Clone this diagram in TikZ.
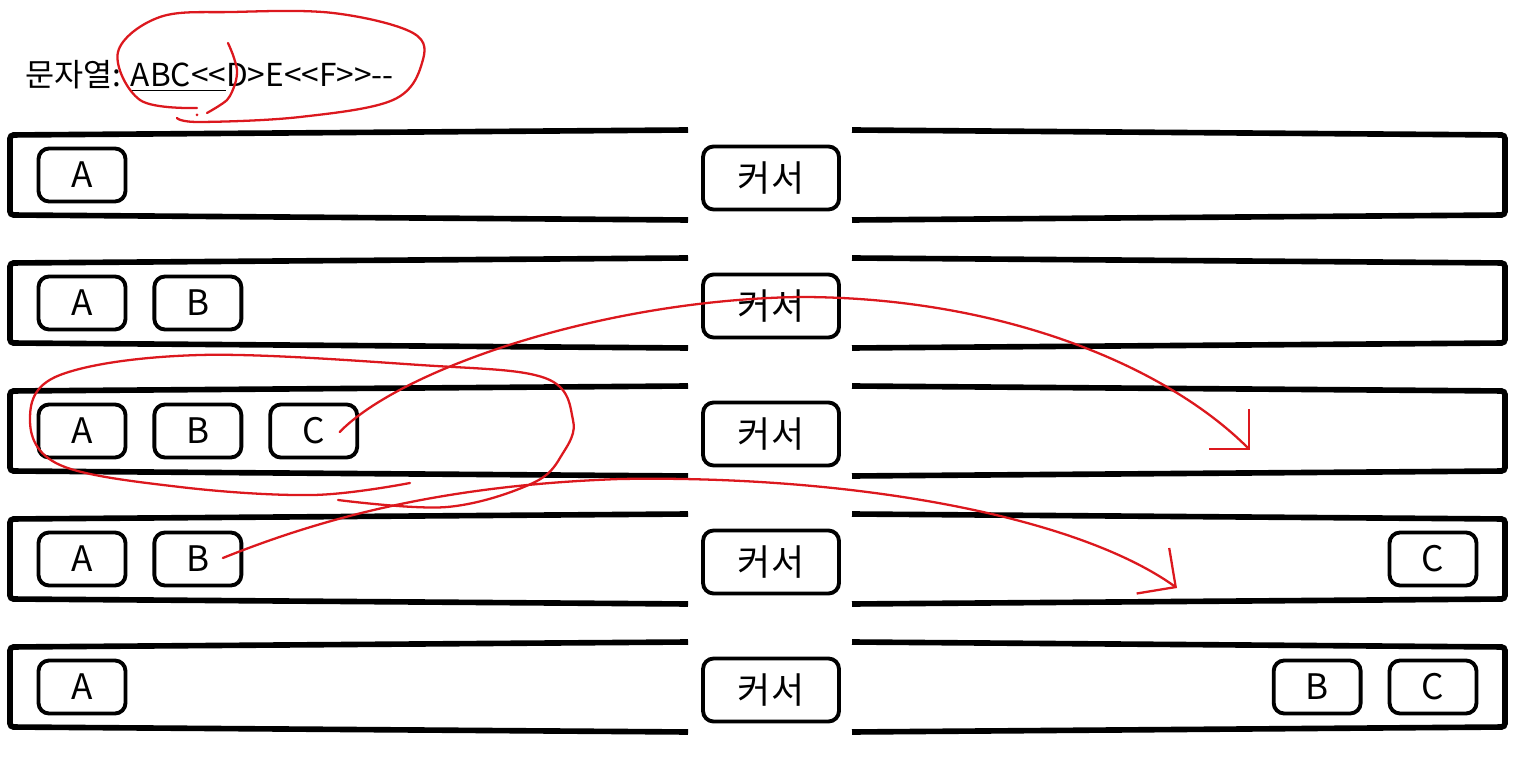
\documentclass[tikz,border=0pt]{standalone}
\usepackage{fontspec}
\setmainfont{Noto Sans CJK KR}
\usetikzlibrary{positioning,arrows.meta,calc}
\definecolor{ink}{RGB}{220,24,30}

\begin{document}
\begin{tikzpicture}[x=0.02cm, y=-0.02cm,
  pnl/.style={line width=3.2pt, rounded corners=2pt},
  ch/.style={draw, line width=2.2pt, rounded corners=6pt,
    minimum width=1.74cm, minimum height=1.06cm, font=\fontsize{20}{24}\selectfont},
  cur/.style={ch, minimum width=2.72cm, minimum height=1.26cm, font=\fontsize{20.5}{24}\selectfont},
  redpen/.style={draw=ink, line width=1.3pt, line cap=round, line join=round},
  ar/.style={redpen, -{Straight Barb[length=0.56cm, width=1.12cm]}}
]
\useasboundingbox (0,0) rectangle (1533,759);

\node[anchor=base west, inner sep=0, font=\fontsize{18}{21}\selectfont] (title) at (25,87)
  {문자열: \underline{ABC<{}<}D>E<{}<F>{}>-{}-};

% stack rows with the cursor in the middle
\foreach \i/\y in {1/175,2/303,3/431,4/559,5/687}{
  \draw[pnl] (688,\y-45) -- (10,\y-40) -- (10,\y+40) -- (688,\y+45);
  \draw[pnl] (852,\y-45) -- (1505,\y-40) -- (1505,\y+40) -- (852,\y+45);
  \node[cur] (cur\i) at (771,\y+3) {커서};
}

\node[ch] (a1) at (82,175) {A};

\node[ch] (a2) at (82,303) {A};
\node[ch, right=0.5cm of a2] (b2) {B};

\node[ch] (a3) at (82,431) {A};
\node[ch, right=0.5cm of a3] (b3) {B};
\node[ch, right=0.5cm of b3] (c3) {C};

\node[ch] (a4) at (82,559) {A};
\node[ch, right=0.5cm of a4] (b4) {B};
\node[ch] (c4) at (1433,559) {C};

\node[ch] (a5) at (82,687) {A};
\node[ch] (c5) at (1433,687) {C};
\node[ch, left=0.5cm of c5] (b5) {B};

% red marks
\draw[redpen] plot[smooth, tension=0.6] coordinates {(197,108) (140,100) (118,52) (160,17)
  (233,12) (333,13) (413,33) (422,63) (393,100) (300,117) (200,122) (177,118)};
\draw[redpen] plot[smooth] coordinates {(228,43) (233,55) (237,70) (235,84) (227,100) (207,113)};
\fill[ink] (197,115) circle (1.5);

\draw[redpen] plot[smooth, tension=0.6] coordinates {(410,483) (313,495) (180,487) (60,465)
  (30,420) (60,375) (200,355) (420,365) (545,378) (573,420) (563,453) (533,483) (447,507) (338,500)};

\coordinate (s1) at ($(c3.center)+(26,1)$);
\coordinate (t1) at (1250,450);
\draw[ar] (s1) .. controls (400,370) and (600,300) .. (800,297)
  .. controls (1000,297) and (1165,365) .. (t1);

\coordinate (s2) at ($(b4.center)+(25,-1)$);
\coordinate (t2) at (1177,588);
\draw[ar] (s2) .. controls (330,515) and (450,485) .. (620,479)
  .. controls (850,475) and (1075,515) .. (t2);
\end{tikzpicture}
\end{document}
